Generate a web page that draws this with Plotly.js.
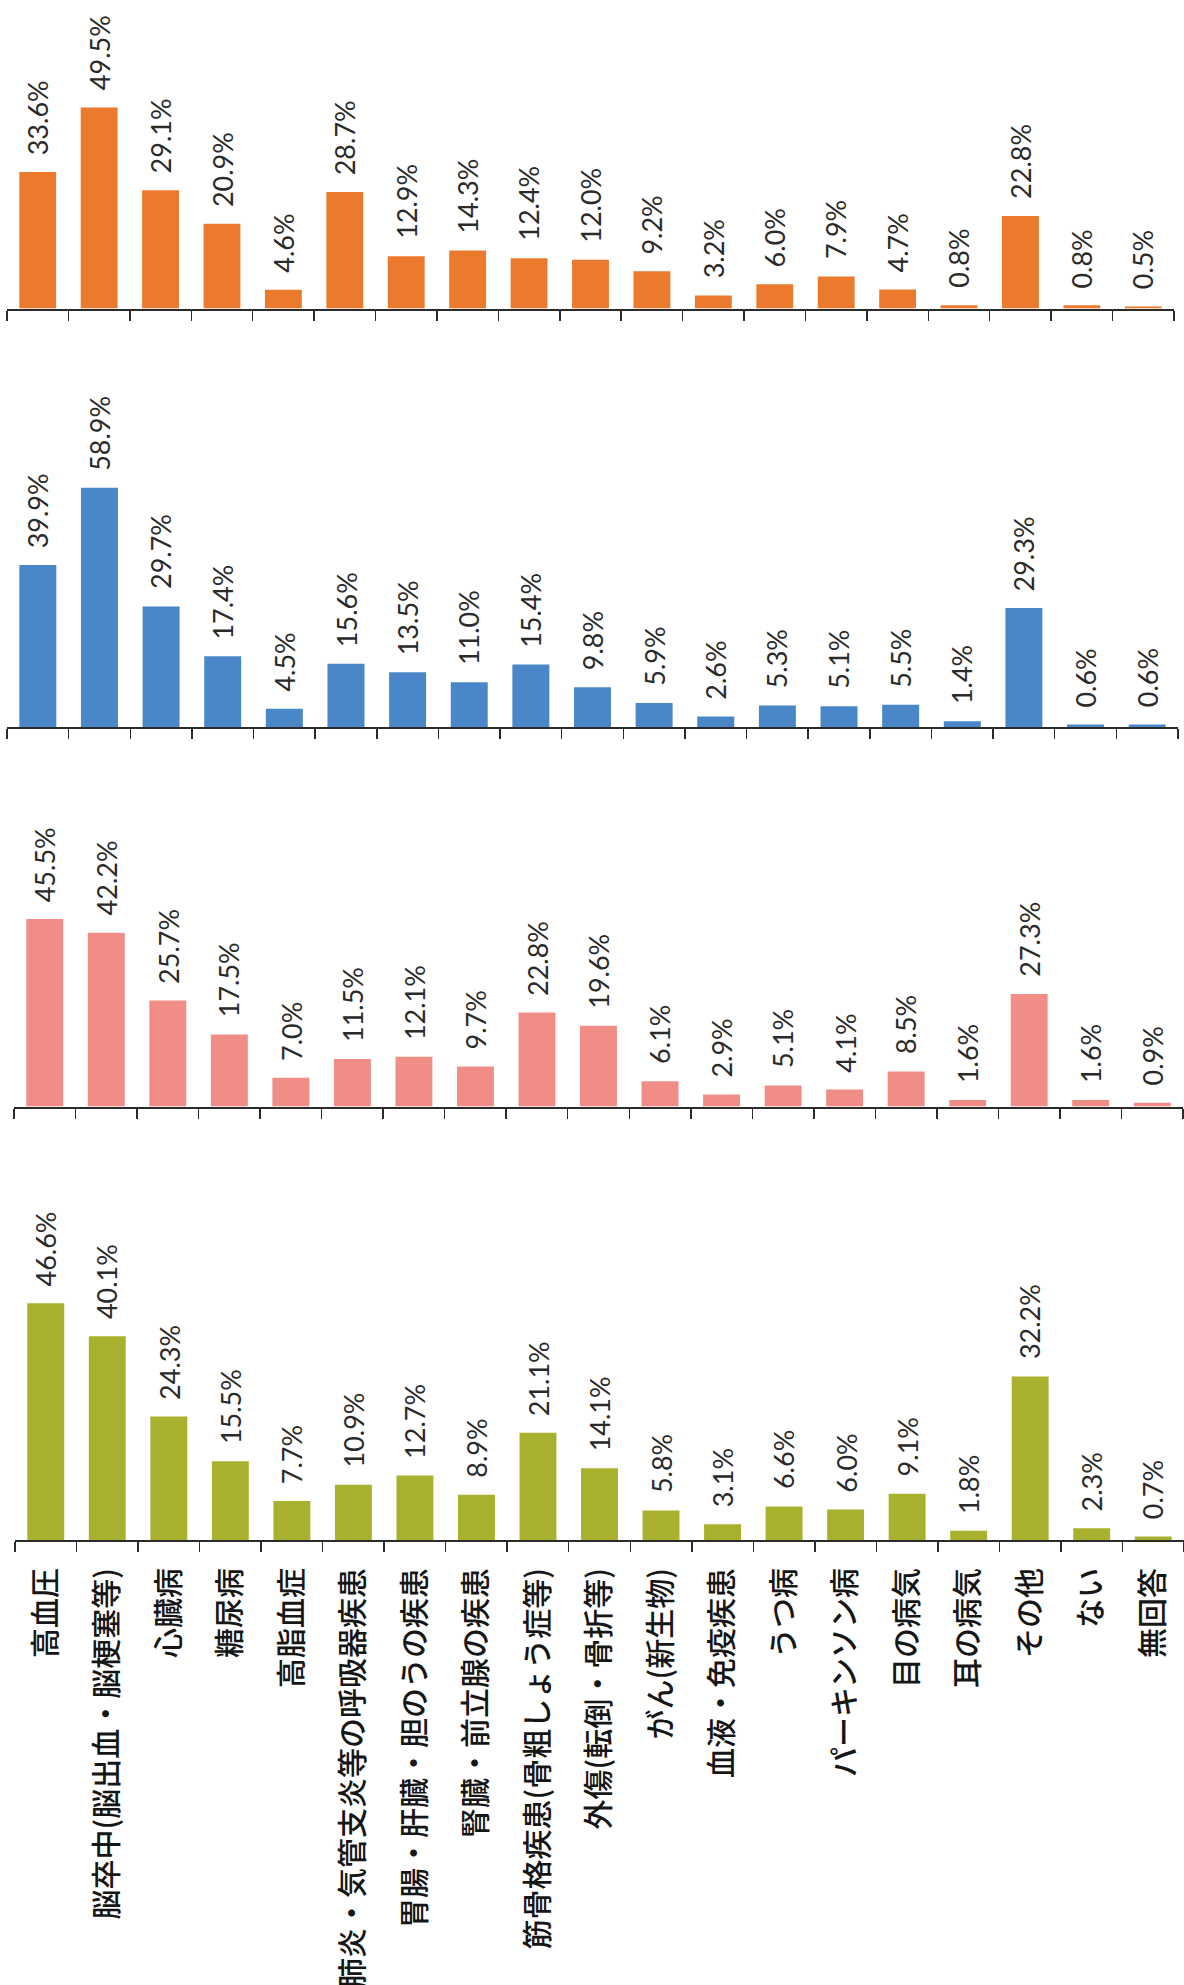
<!DOCTYPE html>
<html>
<head>
<meta charset="utf-8">
<script src="https://cdn.plot.ly/plotly-3.0.1.min.js"></script>
<style>
html,body{margin:0;padding:0;background:#ffffff;}
#chart{width:1184px;height:1985px;}
</style>
</head>
<body>
<div id="chart"></div>
<script>
// ---- data ----
const categories = [
  "高血圧",
  "脳卒中(脳出血・脳梗塞等)",
  "心臓病",
  "糖尿病",
  "高脂血症",
  "肺炎・気管支炎等の呼吸器疾患",
  "胃腸・肝臓・胆のうの疾患",
  "腎臓・前立腺の疾患",
  "筋骨格疾患(骨粗しょう症等)",
  "外傷(転倒・骨折等)",
  "がん(新生物)",
  "血液・免疫疾患",
  "うつ病",
  "パーキンソン病",
  "目の病気",
  "耳の病気",
  "その他",
  "ない",
  "無回答"
];
const orangeValues = [33.6, 49.5, 29.1, 20.9, 4.6, 28.7, 12.9, 14.3, 12.4, 12.0, 9.2, 3.2, 6.0, 7.9, 4.7, 0.8, 22.8, 0.8, 0.5];
const blueValues   = [39.9, 58.9, 29.7, 17.4, 4.5, 15.6, 13.5, 11.0, 15.4, 9.8, 5.9, 2.6, 5.3, 5.1, 5.5, 1.4, 29.3, 0.6, 0.6];
const pinkValues   = [45.5, 42.2, 25.7, 17.5, 7.0, 11.5, 12.1, 9.7, 22.8, 19.6, 6.1, 2.9, 5.1, 4.1, 8.5, 1.6, 27.3, 1.6, 0.9];
const greenValues  = [46.6, 40.1, 24.3, 15.5, 7.7, 10.9, 12.7, 8.9, 21.1, 14.1, 5.8, 3.1, 6.6, 6.0, 9.1, 1.8, 32.2, 2.3, 0.7];

// ---- layout geometry (pixels) ----
const W = 1184, H = 1985;
const panels = [
  {vals: orangeValues, color: "#ec7a2c", x0: 7,  x1: 1174, top: 0,    bottom: 308.5, ppu: 4.06},
  {vals: blueValues,   color: "#4a87c9", x0: 7,  x1: 1178, top: 320,  bottom: 727,   ppu: 4.06},
  {vals: pinkValues,   color: "#f08d86", x0: 14, x1: 1183, top: 740,  bottom: 1106.5,ppu: 4.12},
  {vals: greenValues,  color: "#a9b02e", x0: 15, x1: 1184, top: 1140, bottom: 1540,  ppu: 5.08}
];

const traces = [];
const annotations = [];
const layout = {
  width: W, height: H,
  margin: {l: 0, r: 0, t: 0, b: 0},
  paper_bgcolor: "#ffffff",
  plot_bgcolor: "rgba(0,0,0,0)",
  showlegend: false,
  bargap: 0.4,
  font: {family: "Lato, 'Noto Sans CJK JP', sans-serif", color: "#333"}
};

panels.forEach((p, i) => {
  const n = i + 1;
  const xa = n === 1 ? "x" : "x" + n;
  const ya = n === 1 ? "y" : "y" + n;
  traces.push({
    type: "bar",
    x: categories,
    y: p.vals,
    xaxis: xa, yaxis: ya,
    marker: {color: p.color, line: {width: 0}},
    hoverinfo: "x+y"
  });
  layout[(n === 1 ? "xaxis" : "xaxis" + n)] = {
    domain: [p.x0 / W, p.x1 / W],
    anchor: ya,
    type: "category",
    showline: true, linecolor: "#2b2b2b", linewidth: 2,
    ticks: "outside", ticklen: 10, tickwidth: 1.5, tickcolor: "#2b2b2b",
    tickson: "boundaries",
    showgrid: false, zeroline: false,
    showticklabels: n === 4,
    tickangle: -90,
    ticklabelstandoff: 14,
    tickfont: {family: "'Noto Sans CJK JP', sans-serif", size: 30, color: "#161616", weight: 500},
    fixedrange: true
  };
  layout[(n === 1 ? "yaxis" : "yaxis" + n)] = {
    domain: [(H - p.bottom) / H, (H - p.top) / H],
    anchor: xa,
    range: [0, (p.bottom - p.top) / p.ppu],
    visible: false,
    fixedrange: true
  };
  p.vals.forEach((v, k) => {
    annotations.push({
      x: categories[k], y: v, xref: xa, yref: ya,
      text: v.toFixed(1) + "%",
      showarrow: false,
      textangle: -90,
      xanchor: "center", yanchor: "bottom",
      yshift: 15,
      font: {family: "Lato, sans-serif", size: 27, color: "#2a2a2a"}
    });
  });
});
layout.annotations = annotations;

Plotly.newPlot("chart", traces, layout, {staticPlot: true, displayModeBar: false});
</script>
</body>
</html>
